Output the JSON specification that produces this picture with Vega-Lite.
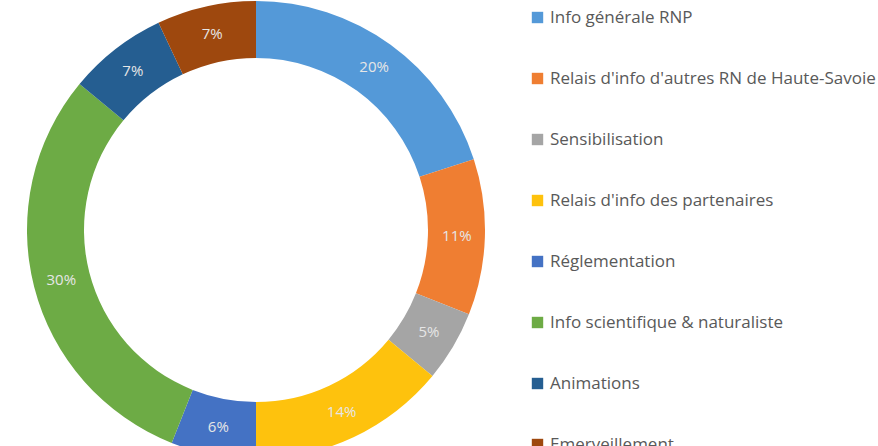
{
  "$schema": "https://vega.github.io/schema/vega-lite/v6.json",
  "width": 512,
  "height": 460,
  "padding": 0,
  "background": "white",
  "view": {"stroke": null},
  "data": {
    "values": [
      {"cat": "Info générale RNP", "pct": 0.20, "idx": 1},
      {"cat": "Relais d'info d'autres RN de Haute-Savoie", "pct": 0.11, "idx": 2},
      {"cat": "Sensibilisation", "pct": 0.05, "idx": 3},
      {"cat": "Relais d'info des partenaires", "pct": 0.14, "idx": 4},
      {"cat": "Réglementation", "pct": 0.06, "idx": 5},
      {"cat": "Info scientifique & naturaliste", "pct": 0.30, "idx": 6},
      {"cat": "Animations", "pct": 0.07, "idx": 7},
      {"cat": "Emerveillement", "pct": 0.07, "idx": 8}
    ]
  },
  "encoding": {
    "theta": {"field": "pct", "type": "quantitative", "stack": true},
    "order": {"field": "idx", "type": "quantitative"},
    "color": {
      "field": "cat",
      "type": "nominal",
      "sort": null,
      "scale": {
        "domain": ["Info générale RNP", "Relais d'info d'autres RN de Haute-Savoie", "Sensibilisation", "Relais d'info des partenaires", "Réglementation", "Info scientifique & naturaliste", "Animations", "Emerveillement"],
        "range": ["#5499D8", "#EF7E32", "#A5A5A5", "#FEC20D", "#4472C4", "#6DAB45", "#255E91", "#9E480E"]
      },
      "legend": {
        "orient": "none",
        "legendX": 529,
        "legendY": 9,
        "title": null,
        "symbolType": "square",
        "symbolSize": 130,
        "symbolStrokeWidth": 0,
        "labelFont": "Open Sans",
        "labelFontSize": 17,
        "labelColor": "#595959",
        "labelLimit": 400,
        "labelOffset": 4,
        "rowPadding": 43
      }
    }
  },
  "layer": [
    {
      "mark": {"type": "arc", "innerRadius": 172, "outerRadius": 229, "stroke": null}
    },
    {
      "mark": {"type": "text", "radius": 201, "font": "Open Sans", "fontSize": 15, "fill": "#E6E6E6"},
      "encoding": {
        "text": {"field": "pct", "type": "quantitative", "format": ".0%"},
        "color": {"value": "#E6E6E6"}
      }
    }
  ]
}
